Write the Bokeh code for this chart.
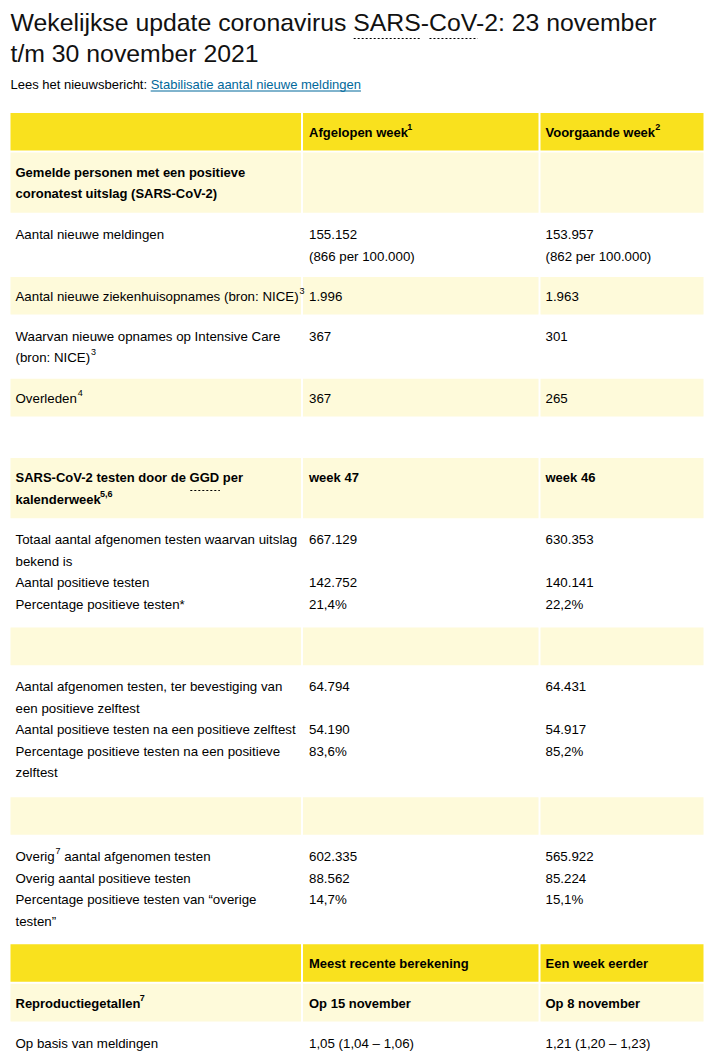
import re
from bokeh.plotting import figure
from bokeh.models import Range1d, ColumnDataSource
from bokeh.embed import file_html
from bokeh.resources import INLINE
from bokeh.core.properties import value

# ---------------- data ----------------
title_lines = ["Wekelijkse update coronavirus SARS-CoV-2: 23 november",
               "t/m 30 november 2021"]
intro_text = "Lees het nieuwsbericht: "
intro_link = "Stabilisatie aantal nieuwe meldingen"

head_cols = ["", "Afgelopen week^{1}", "Voorgaande week^{2}"]
sec1_title = "Gemelde personen met een positieve\ncoronatest uitslag (SARS-CoV-2)"
sec1_labels = ["Aantal nieuwe meldingen",
               "Aantal nieuwe ziekenhuisopnames (bron: NICE)^{3}",
               "Waarvan nieuwe opnames op Intensive Care\n(bron: NICE)^{3}",
               "Overleden^{4}"]
sec1_last_week = ["155.152\n(866 per 100.000)", "1.996", "367", "367"]
sec1_prev_week = ["153.957\n(862 per 100.000)", "1.963", "301", "265"]

sec2_title = "SARS-CoV-2 testen door de GGD per\nkalenderweek^{5,6}"
sec2_weeks = ["week 47", "week 46"]
ggd_labels = ["Totaal aantal afgenomen testen waarvan uitslag\nbekend is",
              "Aantal positieve testen",
              "Percentage positieve testen*"]
ggd_week47 = ["667.129", "142.752", "21,4%"]
ggd_week46 = ["630.353", "140.141", "22,2%"]

zelf_labels = ["Aantal afgenomen testen, ter bevestiging van\neen positieve zelftest",
               "Aantal positieve testen na een positieve zelftest",
               "Percentage positieve testen na een positieve\nzelftest"]
zelf_week47 = ["64.794", "54.190", "83,6%"]
zelf_week46 = ["64.431", "54.917", "85,2%"]

overig_labels = ["Overig^{7} aantal afgenomen testen",
                 "Overig aantal positieve testen",
                 "Percentage positieve testen van “overige\ntesten”"]
overig_week47 = ["602.335", "88.562", "14,7%"]
overig_week46 = ["565.922", "85.224", "15,1%"]

repro_head = ["", "Meest recente berekening", "Een week eerder"]
repro_sub = ["Reproductiegetallen^{7}", "Op 15 november", "Op 8 november"]
repro_labels = ["Op basis van meldingen"]
repro_recent = ["1,05 (1,04 – 1,06)"]
repro_earlier = ["1,21 (1,20 – 1,23)"]

# ---------------- styling / layout ----------------
YELLOW = "#f9e11e"
LIGHT = "#fefada"
WHITE = None
TXT = "#000000"
LINK = "#01689b"
FONT = "Liberation Sans"
BODY = 13.3
BOLD = 13.0
TITLE = 24.8
SUP = 9.0

# Arial / Liberation Sans advance widths (1/1000 em) for text measuring
_CH = " !\"%()*,-./0123456789:ABCDEFGHIJKLMNOPQRSTUVWXYZabcdefghijklmnopqrstuvwxyz"
_REG = dict(zip(_CH,
    [278, 278, 355, 889, 333, 333, 389, 278, 333, 278, 278] + [556] * 10 + [278,
     667, 667, 722, 722, 667, 611, 778, 722, 278, 500, 667, 556, 833, 722, 778, 667, 778, 722, 667, 611, 722, 667, 944, 667, 667, 611,
     556, 556, 500, 556, 556, 278, 556, 556, 222, 222, 500, 222, 833, 556, 556, 556, 556, 333, 500, 278, 556, 500, 722, 500, 500, 500]))
_BLD = dict(zip(_CH,
    [278, 333, 474, 889, 333, 333, 389, 278, 333, 278, 278] + [556] * 10 + [333,
     722, 722, 722, 722, 667, 611, 778, 722, 278, 556, 722, 611, 833, 722, 778, 667, 778, 722, 667, 611, 722, 667, 944, 667, 667, 611,
     556, 611, 556, 611, 556, 333, 611, 611, 278, 278, 556, 278, 889, 611, 611, 611, 611, 389, 556, 333, 611, 556, 778, 556, 556, 500]))


def tw(s, size, bold=False):
    t = _BLD if bold else _REG
    return sum(t.get(ch, 556) for ch in s) / 1000.0 * size


W, H = 708, 1063
p = figure(width=W, height=H, x_range=Range1d(0, W), y_range=Range1d(H, 0),
           output_backend="svg", toolbar_location=None, min_border=0,
           x_axis_location=None, y_axis_location=None)
p.grid.visible = False
p.outline_line_color = None
p.background_fill_color = "white"
p.border_fill_color = "white"

COLS = [(10, 300.5), (302.5, 538), (540, 703)]
TEXT_X = [15, 308.5, 545]
LINE = 21.5
FIRST_BASE = 20.2      # offset of first text line inside a row

rows = [
    (YELLOW, True, [[""], [head_cols[1]], [head_cols[2]]]),
    (LIGHT, True, [[sec1_title], [""], [""]]),
]
for i, lab in enumerate(sec1_labels):
    rows.append((WHITE if i % 2 == 0 else LIGHT, False,
                 [[lab], [sec1_last_week[i]], [sec1_prev_week[i]]]))
rows += [
    (WHITE, False, [[""], [""], [""]]),
    (LIGHT, True, [[sec2_title], [sec2_weeks[0]], [sec2_weeks[1]]]),
    (WHITE, False, [ggd_labels, ggd_week47, ggd_week46]),
    (LIGHT, False, [[""], [""], [""]]),
    (WHITE, False, [zelf_labels, zelf_week47, zelf_week46]),
    (LIGHT, False, [[""], [""], [""]]),
    (WHITE, False, [overig_labels, overig_week47, overig_week46]),
    (YELLOW, True, [[repro_head[0]], [repro_head[1]], [repro_head[2]]]),
    (LIGHT, True, [[repro_sub[0]], [repro_sub[1]], [repro_sub[2]]]),
    (WHITE, False, [repro_labels, repro_recent, repro_earlier]),
]

rect = dict(left=[], right=[], top=[], bottom=[], color=[])
norm = dict(x=[], y=[], text=[])
bold = dict(x=[], y=[], text=[])
sup_n = dict(x=[], y=[], text=[])
sup_b = dict(x=[], y=[], text=[])


def put_line(x, y, line, is_bold):
    size = BOLD if is_bold else BODY
    tgt = bold if is_bold else norm
    stgt = sup_b if is_bold else sup_n
    parts = re.split(r"\^\{([^}]*)\}", line)
    for k, seg in enumerate(parts):
        if not seg:
            continue
        if k % 2 == 0:
            lead = len(seg) - len(seg.lstrip(" "))
            x += tw(" " * lead, size, is_bold)
            seg = seg.lstrip(" ")
            tgt["x"].append(x); tgt["y"].append(y); tgt["text"].append(seg)
            x += tw(seg, size, is_bold) - (1.5 if is_bold else 0)
        else:
            x += 0.8
            stgt["x"].append(x); stgt["y"].append(y - 5.5); stgt["text"].append(seg)
            x += tw(seg, SUP, is_bold)


top = 112.0
for fill, is_bold, cols in rows:
    n_items = len(cols[0])
    item_lines = [max(len(c[k].split("\n")) for c in cols) for k in range(n_items)]
    nlines = sum(item_lines)
    h = 17 + 22.6 * nlines
    if fill is not None:
        for (l, r) in COLS:
            rect["left"].append(l)
            rect["right"].append(r)
            rect["top"].append(top + 0.5)
            rect["bottom"].append(top + h - 1.5)
            rect["color"].append(fill)
    for ci, c in enumerate(cols):
        li = 0
        for k in range(n_items):
            for j, ln in enumerate(c[k].split("\n")):
                if ln:
                    put_line(TEXT_X[ci], top + FIRST_BASE + LINE * (li + j), ln, is_bold)
            li += item_lines[k]
    top += h

p.quad(left="left", right="right", top="top", bottom="bottom", color="color",
       source=ColumnDataSource(rect), line_color=None)

common = dict(text_font=value(FONT), text_baseline="alphabetic", text_align="left")
p.text(x="x", y="y", text="text", source=ColumnDataSource(norm),
       text_font_size=f"{BODY}px", text_color=TXT, **common)
p.text(x="x", y="y", text="text", source=ColumnDataSource(bold),
       text_font_size=f"{BOLD}px", text_font_style="bold", text_color=TXT, **common)
p.text(x="x", y="y", text="text", source=ColumnDataSource(sup_n),
       text_font_size=f"{SUP}px", text_color=TXT, **common)
p.text(x="x", y="y", text="text", source=ColumnDataSource(sup_b),
       text_font_size=f"{SUP}px", text_font_style="bold", text_color=TXT, **common)

# title
p.text(x=[10, 10], y=[22, 52.5], text=title_lines, text_font_size=f"{TITLE}px",
       text_color="#111111", **common)
# intro + link
link_x = 10 + tw(intro_text, 13)
p.text(x=[10], y=[84], text=[intro_text.strip()], text_font_size="13px", text_color=TXT, **common)
p.text(x=[link_x], y=[84], text=[intro_link], text_font_size="13px", text_color=LINK, **common)
p.segment(x0=[link_x], x1=[link_x + tw(intro_link, 13)], y0=[90.5], y1=[90.5],
          line_color=LINK, line_width=1)

# dotted abbreviation underlines (SARS, CoV in title; GGD in table)
t1 = title_lines[0]
i_sars = t1.index("SARS")
i_cov = t1.index("CoV")
ab_x0 = [10 + tw(t1[:i_sars], TITLE), 10 + tw(t1[:i_cov], TITLE)]
ab_x1 = [ab_x0[0] + tw("SARS", TITLE), ab_x0[1] + tw("CoV", TITLE)]
s2 = sec2_title.split("\n")[0]
i_ggd = s2.index("GGD")
ab_x0.append(TEXT_X[0] + tw(s2[:i_ggd], BOLD, True))
ab_x1.append(ab_x0[-1] + tw("GGD", BOLD, True))
p.segment(x0=ab_x0, x1=ab_x1, y0=[38, 38, 490], y1=[38, 38, 490],
          line_color="#000000", line_width=1, line_dash="2 2")

open("out.html", "w").write(file_html(p, INLINE))
